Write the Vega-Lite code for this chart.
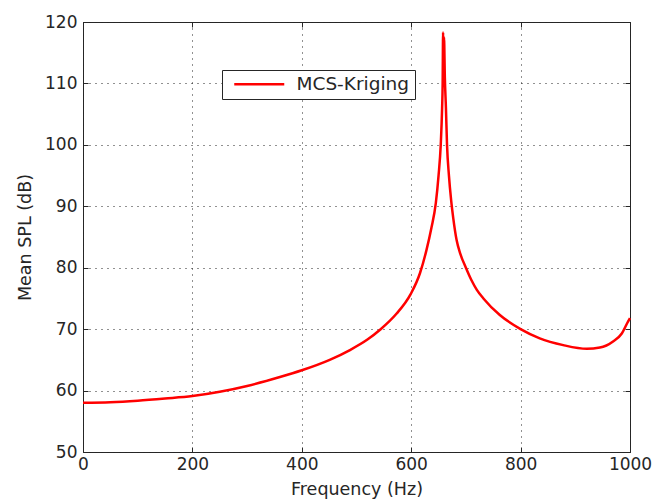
{
  "$schema": "https://vega.github.io/schema/vega-lite/v6.json",
  "width": 547,
  "height": 430,
  "autosize": {"type": "none"},
  "padding": {"left": 83, "top": 22, "right": 23, "bottom": 52},
  "background": "white",
  "config": {
    "view": {"stroke": "#262626", "strokeWidth": 1},
    "font": "DejaVu Sans",
    "axis": {
      "labelFont": "DejaVu Sans",
      "titleFont": "DejaVu Sans",
      "labelFontSize": 17,
      "titleFontSize": 17.5,
      "titleFontWeight": "normal",
      "labelColor": "#262626",
      "titleColor": "#262626",
      "domain": false,
      "tickColor": "#262626",
      "tickSize": -5,
      "tickWidth": 1,
      "gridColor": "#222222",
      "gridDash": [1, 5],
      "gridOpacity": 1,
      "gridWidth": 1
    },
    "legend": {
      "orient": "none",
      "legendX": 139,
      "legendY": 48,
      "strokeColor": "#262626",
      "fillColor": "white",
      "padding": 5,
      "symbolType": "M-0.4,0H9.6",
      "symbolStrokeWidth": 2.5,
      "symbolSize": 100,
      "labelOffset": 51,
      "labelFont": "DejaVu Sans",
      "labelFontSize": 18.5,
      "labelColor": "#262626",
      "title": null
    }
  },
  "data": {
    "values": [
      {"f": 0, "spl": 58.0},
      {"f": 50, "spl": 58.1},
      {"f": 100, "spl": 58.35},
      {"f": 150, "spl": 58.7},
      {"f": 200, "spl": 59.1},
      {"f": 250, "spl": 59.8},
      {"f": 300, "spl": 60.75},
      {"f": 360, "spl": 62.2},
      {"f": 400, "spl": 63.3},
      {"f": 451, "spl": 65.0},
      {"f": 488, "spl": 66.6},
      {"f": 520, "spl": 68.3},
      {"f": 543, "spl": 69.9},
      {"f": 573, "spl": 72.5},
      {"f": 599, "spl": 75.7},
      {"f": 616, "spl": 79.1},
      {"f": 628, "spl": 82.9},
      {"f": 637, "spl": 86.5},
      {"f": 645, "spl": 90.5},
      {"f": 650, "spl": 95.0},
      {"f": 654, "spl": 100.0},
      {"f": 656.5, "spl": 106.0},
      {"f": 657.5, "spl": 110.0},
      {"f": 658.3, "spl": 118.3},
      {"f": 659, "spl": 113.5},
      {"f": 660, "spl": 117.5},
      {"f": 661.5, "spl": 111.0},
      {"f": 663.5, "spl": 106.0},
      {"f": 665.5, "spl": 100.0},
      {"f": 669, "spl": 95.0},
      {"f": 673, "spl": 91.0},
      {"f": 677, "spl": 88.0},
      {"f": 683, "spl": 84.5},
      {"f": 690, "spl": 82.2},
      {"f": 700, "spl": 80.0},
      {"f": 710, "spl": 78.0},
      {"f": 720, "spl": 76.4},
      {"f": 732, "spl": 75.0},
      {"f": 762, "spl": 72.3},
      {"f": 800, "spl": 70.0},
      {"f": 835, "spl": 68.5},
      {"f": 878, "spl": 67.4},
      {"f": 921, "spl": 66.8},
      {"f": 945, "spl": 67.0},
      {"f": 969, "spl": 68.0},
      {"f": 985, "spl": 69.3},
      {"f": 995, "spl": 71.0},
      {"f": 1000, "spl": 71.8}
    ]
  },
  "layer": [
    {
      "mark": {"type": "line", "strokeWidth": 2.5, "interpolate": "monotone"},
      "encoding": {
        "x": {
          "field": "f", "type": "quantitative",
          "scale": {"domain": [0, 1000], "nice": false, "zero": false},
          "axis": {"title": "Frequency (Hz)", "values": [0, 200, 400, 600, 800, 1000], "format": "d", "grid": true, "labelPadding": 9, "titlePadding": 8, "labelFlush": false}
        },
        "y": {
          "field": "spl", "type": "quantitative",
          "scale": {"domain": [50, 120], "nice": false, "zero": false},
          "axis": {"title": "Mean SPL (dB)", "values": [50, 60, 70, 80, 90, 100, 110, 120], "grid": true, "labelPadding": 11, "titlePadding": 10, "labelFlush": false}
        },
        "color": {"datum": "MCS-Kriging", "type": "nominal", "scale": {"range": ["#ff0000"]}}
      }
    },
    {
      "mark": {"type": "line", "opacity": 0},
      "encoding": {
        "x": {
          "field": "f", "type": "quantitative",
          "scale": {"domain": [0, 1000], "nice": false, "zero": false},
          "axis": {"orient": "top", "title": null, "labels": false, "grid": false, "values": [0, 200, 400, 600, 800, 1000]}
        },
        "y": {
          "field": "spl", "type": "quantitative",
          "scale": {"domain": [50, 120], "nice": false, "zero": false},
          "axis": {"orient": "right", "title": null, "labels": false, "grid": false, "values": [50, 60, 70, 80, 90, 100, 110, 120]}
        }
      }
    }
  ],
  "resolve": {"axis": {"x": "independent", "y": "independent"}}
}
